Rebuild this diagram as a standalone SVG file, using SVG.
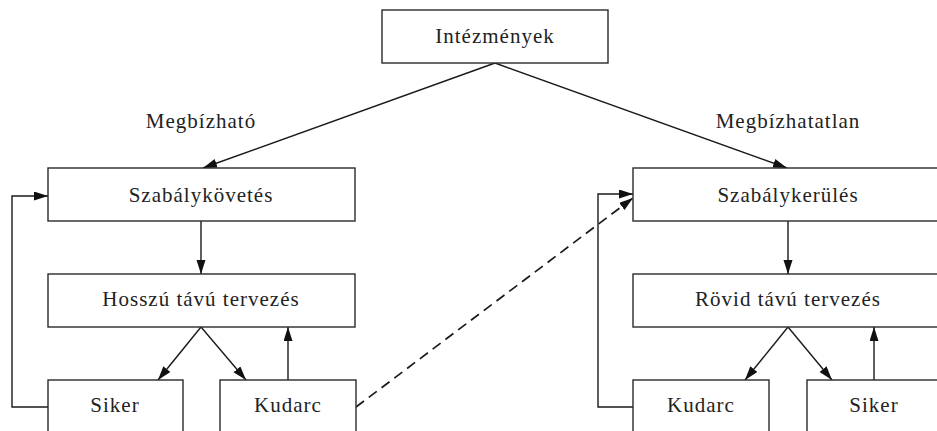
<svg xmlns="http://www.w3.org/2000/svg" width="937" height="431" viewBox="0 0 937 431">
<style>
.box{fill:#fff;stroke:#2a2a2a;stroke-width:1.4}
.t{font-family:"Liberation Serif","Times New Roman",serif;font-size:21px;letter-spacing:1px;fill:#222;text-anchor:middle}
.c{fill:none;stroke:#1a1a1a;stroke-width:1.4}
.d{stroke-dasharray:10 6;stroke-width:1.7}
</style>
<defs>
<marker id="ah" markerUnits="userSpaceOnUse" markerWidth="15" markerHeight="10" refX="14" refY="4.5" orient="auto">
<path d="M0,0 L14,4.5 L0,9 z" fill="#111"/>
</marker>
</defs>
<rect width="937" height="431" fill="#fff"/>
<g id="connectors">
<line class="c" x1="495" y1="63" x2="203" y2="168" marker-end="url(#ah)"/>
<line class="c" x1="495" y1="63" x2="787" y2="168" marker-end="url(#ah)"/>
<line class="c" x1="201" y1="221" x2="201" y2="274" marker-end="url(#ah)"/>
<line class="c" x1="201" y1="327" x2="158" y2="380" marker-end="url(#ah)"/>
<line class="c" x1="201" y1="327" x2="246" y2="380" marker-end="url(#ah)"/>
<line class="c" x1="288" y1="380" x2="288" y2="327" marker-end="url(#ah)"/>
<polyline class="c" points="48,407 12,407 12,196 48,196" marker-end="url(#ah)"/>
<line class="c d" x1="356" y1="407" x2="633" y2="198" marker-end="url(#ah)"/>
<line class="c" x1="788" y1="221" x2="788" y2="274" marker-end="url(#ah)"/>
<line class="c" x1="788" y1="327" x2="745" y2="380" marker-end="url(#ah)"/>
<line class="c" x1="788" y1="327" x2="832" y2="380" marker-end="url(#ah)"/>
<line class="c" x1="874" y1="380" x2="874" y2="327" marker-end="url(#ah)"/>
<polyline class="c" points="633,407 598,407 598,194 633,194" marker-end="url(#ah)"/>
</g>
<g id="intezmenyek"><rect class="box" x="382" y="10" width="226" height="53"/><text class="t" x="495" y="43">Intézmények</text></g>
<g id="megbizhato-label"><text class="t" x="201" y="128">Megbízható</text></g>
<g id="megbizhatatlan-label"><text class="t" x="788" y="128">Megbízhatatlan</text></g>
<g id="szabalykovetes"><rect class="box" x="48" y="168" width="307" height="53"/><text class="t" x="201" y="202">Szabálykövetés</text></g>
<g id="hosszu"><rect class="box" x="48" y="274" width="307" height="53"/><text class="t" x="201" y="306">Hosszú távú tervezés</text></g>
<g id="siker-left"><rect class="box" x="48" y="380" width="135" height="70"/><text class="t" x="115" y="412">Siker</text></g>
<g id="kudarc-left"><rect class="box" x="220" y="380" width="136" height="70"/><text class="t" x="288" y="412">Kudarc</text></g>
<g id="szabalykerules"><rect class="box" x="633" y="168" width="310" height="53"/><text class="t" x="788" y="202">Szabálykerülés</text></g>
<g id="rovid"><rect class="box" x="633" y="274" width="310" height="53"/><text class="t" x="788" y="306">Rövid távú tervezés</text></g>
<g id="kudarc-right"><rect class="box" x="633" y="380" width="136" height="70"/><text class="t" x="701" y="412">Kudarc</text></g>
<g id="siker-right"><rect class="box" x="807" y="380" width="136" height="70"/><text class="t" x="874" y="412">Siker</text></g>
</svg>
